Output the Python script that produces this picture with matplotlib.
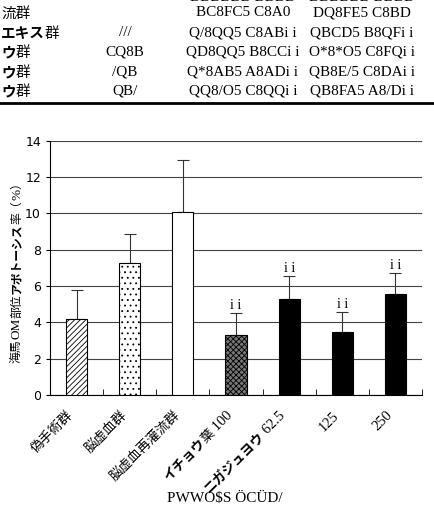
import numpy as np
import matplotlib.pyplot as plt
from matplotlib.transforms import IdentityTransform
from matplotlib.lines import Line2D

# bar data
categories = ["偽手術群", "脳虚血群", "脳虚血再灌流群", "イチョウ葉 100",
              "ニガジュヨウ 62.5", "125", "250"]
means = [4.17, 7.25, 10.06, 3.32, 5.27, 3.49, 5.56]
sds = [1.61, 1.61, 2.88, 1.19, 1.30, 1.10, 1.17]
marks = ["", "", "", "i i", "i i", "i i", "i i"]

# table rows above the chart (garbled in the original, copied as seen)
row_names = ["流群", "エキス群", "ウ群", "ウ群", "ウ群"]
col_a = ["", "///", "CQ8B", "/QB", "QB/"]
col_b = ["BC8FC5 C8A0", "Q/8QQ5 C8ABi i", "QD8QQ5 B8CCi i",
         "Q*8AB5 A8ADi i", "QQ8/O5 C8QQi i"]
col_c = ["DQ8FE5 C8BD", "QBCD5 B8QFi i", "O*8*O5 C8FQi i",
         "QB8E/5 C8DAi i", "QB8FA5 A8/Di i"]

ylabel = "海馬OM部位アポトーシス率（%）"
xtitle = "PWWO$S ÖCÜD/"

plt.rcParams['font.family'] = ['Noto Sans CJK JP', 'DejaVu Sans']
plt.rcParams['hatch.linewidth'] = 0.6

W, H = 434, 509
fig = plt.figure(figsize=(W / 100, H / 100), dpi=100)
ax = fig.add_axes([50 / W, 1 - 395 / H, 372 / W, (395 - 140.7) / H])

x = np.arange(len(categories))
faces = ['white', 'white', 'white', '#777777', 'black', 'black', 'black']
hatches = ['//////', '...', '', 'xxxxxx', '', '', '']
bars = ax.bar(x, means, width=0.4, color=faces, edgecolor='black',
              linewidth=0.8, zorder=3)
for b, h in zip(bars, hatches):
    b.set_hatch(h)
ax.errorbar(x, means, yerr=[np.zeros(len(x)), sds], fmt='none', ecolor='#333333',
            elinewidth=0.8, capsize=4, capthick=0.8, zorder=2)
for xi, m, s, t in zip(x, means, sds, marks):
    if t:
        ax.text(xi, m + s + 0.05, t, ha='center', va='bottom',
                family='Liberation Serif', fontsize=10)

ax.set_xlim(-0.5, 6.5)
ax.set_ylim(0, 14)
ax.set_yticks(np.arange(0, 15, 2))
ax.yaxis.grid(True, color='#444444', linewidth=0.8)
ax.set_axisbelow(True)
for side in ['top', 'right']:
    ax.spines[side].set_visible(False)
ax.set_xticks(x)
ax.set_xticklabels([])
ax.tick_params(axis='x', which='major', length=0)
ax.set_xticks(np.arange(0.5, 7, 1), minor=True)
ax.tick_params(axis='x', which='minor', direction='in', length=4)
ax.tick_params(axis='y', length=3, labelsize=9)
for lab in ax.get_yticklabels():
    lab.set_family('Liberation Sans Narrow')


def style_of(ch):
    if '\u30a0' <= ch <= '\u30ff':
        return 'kata'
    if ord(ch) < 128:
        return 'latin'
    return 'cjk'


def runs_of(s):
    runs = []
    for ch in s:
        st = style_of(ch)
        if runs and runs[-1][1] == st:
            runs[-1][0] += ch
        else:
            runs.append([ch, st])
    return runs


def props(st, size):
    if st == 'kata':
        return dict(fontsize=size, fontweight='bold')
    if st == 'latin':
        return dict(fontsize=size + 1, family='Liberation Serif')
    return dict(fontsize=size)


def draw_runs(s, px, py, angle, align, size):
    renderer = fig.canvas.get_renderer()
    runs = runs_of(s)
    widths = []
    for txt, st in runs:
        t = fig.text(0, 0, txt, transform=IdentityTransform(), **props(st, size))
        widths.append(t.get_window_extent(renderer).width)
        t.remove()
    total = sum(widths)
    d = np.array([np.cos(np.radians(angle)), np.sin(np.radians(angle))])
    shift = {'end': total, 'center': total / 2, 'start': 0}[align]
    start = np.array([px, py]) - d * shift
    pos = 0
    for (txt, st), w in zip(runs, widths):
        p = start + d * pos
        fig.text(p[0], p[1], txt, transform=IdentityTransform(), rotation=angle,
                 rotation_mode='anchor', ha='left', va='baseline', **props(st, size))
        pos += w


fig.canvas.draw()
for xi, lab in zip(x, categories):
    cx = ax.transData.transform((xi, 0))[0]
    draw_runs(lab, cx - 3, H - 395 - 21, 45, 'end', 9.5)

draw_runs(ylabel, 20, H - 270, 90, 'center', 8.5)

fig.text(225 / W, 1 - 498 / H, xtitle, ha='center', va='center',
         family='Liberation Serif', fontsize=11)

# table
row_y = [13, 33, 52, 72, 91]
for yy, nm, a, b, c in zip(row_y, row_names, col_a, col_b, col_c):
    draw_runs(nm, 1, H - yy - 5, 0, 'start', 10.5)
    fig.text(125 / W, 1 - yy / H, a, ha='center', va='center',
             family='Liberation Serif', fontsize=11)
    fig.text(243 / W, 1 - yy / H, b, ha='center', va='center',
             family='Liberation Serif', fontsize=11)
    fig.text(362 / W, 1 - yy / H, c, ha='center', va='center',
             family='Liberation Serif', fontsize=11)
# cut-off row at the very top
fig.text(243 / W, 1 + 3 / H, "BBBBBB BBBB", ha='center', va='center',
         family='Liberation Serif', fontsize=11)
fig.text(362 / W, 1 + 3 / H, "BBBBBB BBBB", ha='center', va='center',
         family='Liberation Serif', fontsize=11)

fig.add_artist(Line2D([0, 1], [1 - 103 / H, 1 - 103 / H], color='black', linewidth=2))

fig.savefig('out.png', dpi=100)
